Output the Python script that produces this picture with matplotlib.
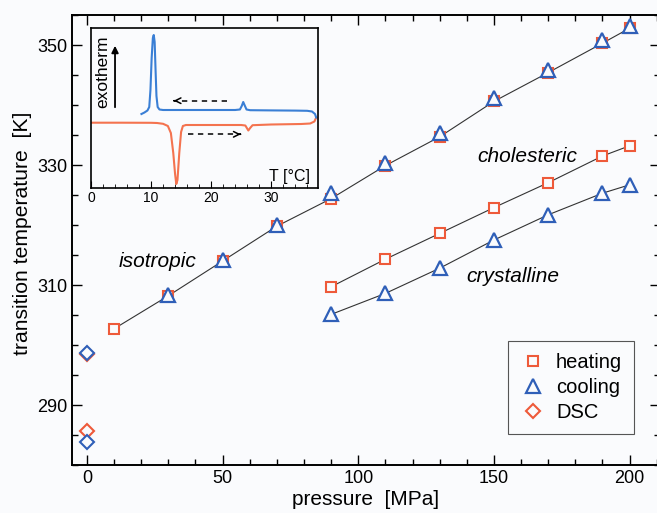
import matplotlib
matplotlib.use('Agg')
import matplotlib.pyplot as plt
from matplotlib.ticker import MultipleLocator, FixedLocator
from matplotlib.lines import Line2D

plt.rcParams['font.family'] = ['Liberation Sans', 'DejaVu Sans']

# transition temperatures vs pressure
# upper branch (isotropic transition)
p_iso_heat = [10, 30, 50, 70, 90, 110, 130, 150, 170, 190, 200]
T_iso_heat = [302.7, 308.2, 314.0, 319.8, 324.4, 329.9, 334.7, 340.6, 345.4, 350.3, 352.8]
p_iso_cool = [30, 50, 70, 90, 110, 130, 150, 170, 190, 200]
T_iso_cool = [308.4, 314.1, 320.0, 325.3, 330.4, 335.4, 341.1, 345.9, 350.9, 353.1]

# lower branches
p_low = [90, 110, 130, 150, 170, 190, 200]
T_chol_heat = [309.7, 314.3, 318.6, 322.9, 327.05, 331.5, 333.2]
T_cryst_cool = [305.1, 308.6, 312.8, 317.5, 321.7, 325.3, 326.7]

# DSC at ambient pressure
p_dsc = [0, 0]
T_dsc_heat = [298.5, 285.7]
T_dsc_cool = [298.7, 283.9]

# DSC traces for inset (T in degC, heat flow in arbitrary units)
dsc_cool_T = [8.4, 8.9, 9.4, 9.7, 9.9, 10.1, 10.3, 10.45, 10.6, 10.75, 10.9, 11.1, 11.4, 12.0,
              16.0, 20.0, 24.0, 24.8, 25.1, 25.35, 25.6, 25.9, 26.5, 30.0, 34.0, 36.0,
              36.8, 37.3, 37.5]
dsc_cool_v = [74.0, 75.5, 77.5, 81.0, 98.0, 130.0, 150.0, 153.0, 146.0, 118.0, 92.0, 81.0, 78.5, 78.0,
              78.0, 78.0, 78.0, 78.5, 82.0, 86.0, 82.5, 78.5, 77.8, 77.6, 77.4, 77.2,
              76.5, 74.0, 70.5]
dsc_heat_T = [0.1, 5.0, 10.0, 11.0, 12.0, 12.8, 13.3, 13.7, 14.0, 14.2, 14.4, 14.7, 15.0, 15.3,
              15.8, 20.0, 25.0, 25.7, 26.0, 26.2, 26.5, 26.9, 30.0, 35.0, 36.5, 37.2, 37.5]
dsc_heat_v = [65.3, 65.3, 65.2, 65.0, 64.2, 62.0, 55.0, 35.0, 14.0, 4.0, 8.0, 35.0, 56.0, 62.0,
              63.0, 63.0, 63.0, 62.5, 59.5, 57.5, 60.0, 62.8, 63.5, 64.0, 64.5, 66.5, 70.5]

y_major = [290, 310, 330, 350]

c_heat = '#ee5a3a'
c_cool = '#2f5fb8'
c_dsc_heat = '#f4734f'
c_dsc_cool = '#3a7fd5'
bg = '#fafbfd'

fig = plt.figure(figsize=(6.57, 5.13), dpi=100, facecolor=bg)
ax = fig.add_axes([72/657, 48/513, 588/657, 450/513], facecolor=bg)

line_kw = dict(color='#333333', lw=0.8, zorder=1)
ax.plot(p_iso_heat, T_iso_heat, **line_kw)
ax.plot(p_low, T_chol_heat, **line_kw)
ax.plot(p_low, T_cryst_cool, **line_kw)

sq = dict(ls='none', marker='s', ms=7.2, mfc=bg, mec=c_heat, mew=1.5, zorder=3)
tri = dict(ls='none', marker='^', ms=10, mfc=bg, mec=c_cool, mew=1.6, zorder=4)
dia_h = dict(ls='none', marker='D', ms=7, mfc=bg, mec=c_heat, mew=1.5, zorder=3)
dia_c = dict(ls='none', marker='D', ms=7, mfc=bg, mec=c_cool, mew=1.5, zorder=4)

ax.plot(p_iso_heat, T_iso_heat, **sq)
ax.plot(p_low, T_chol_heat, **sq)
ax.plot(p_iso_cool, T_iso_cool, **tri)
ax.plot(p_low, T_cryst_cool, **tri)
ax.plot(p_dsc, T_dsc_heat, **dia_h)
ax.plot(p_dsc, T_dsc_cool, **dia_c)

ax.set_xlim(-5.5, 211.2)
ax.set_ylim(280, 355)
ax.xaxis.set_major_locator(MultipleLocator(50))
ax.xaxis.set_minor_locator(MultipleLocator(10))
ax.yaxis.set_major_locator(FixedLocator(y_major))
ax.yaxis.set_minor_locator(MultipleLocator(5))
ax.tick_params(which='both', direction='in', top=True, right=True, labelsize=13, width=1.0)
ax.tick_params(which='major', length=7)
ax.tick_params(which='minor', length=4.5)
for s in ax.spines.values():
    s.set_linewidth(1.4)

ax.set_xlabel('pressure  [MPa]', fontsize=15, labelpad=2)
ax.set_ylabel('transition temperature  [K]', fontsize=15.2)
ax.yaxis.set_label_coords(-0.068, 0.515)

ax.text(26, 313.9, 'isotropic', style='italic', fontsize=15, ha='center', va='center')
ax.text(162.4, 331.5, 'cholesteric', style='italic', fontsize=15, ha='center', va='center')
ax.text(157, 311.4, 'crystalline', style='italic', fontsize=15, ha='center', va='center')

handles = [
    Line2D([], [], **sq),
    Line2D([], [], **tri),
    Line2D([], [], **dia_h),
]
leg = ax.legend(handles, ['heating', 'cooling', 'DSC'], loc='lower right',
                bbox_to_anchor=(0.956, 0.069), borderaxespad=0, fontsize=14.5,
                fancybox=False, framealpha=1, edgecolor='#555555', facecolor=bg,
                handletextpad=0.5, labelspacing=0.3, borderpad=0.6, handlelength=1.3)
leg.get_frame().set_linewidth(0.8)

# inset: DSC traces
axi = fig.add_axes([91/657, (513-188)/513, 227/657, 160.3/513], facecolor=bg)
axi.plot(dsc_heat_T, dsc_heat_v, color=c_dsc_heat, lw=1.5)
axi.plot(dsc_cool_T, dsc_cool_v, color=c_dsc_cool, lw=1.5)
axi.set_xlim(0, 37.8)
axi.set_ylim(0, 160.3)
axi.set_yticks([])
axi.xaxis.set_major_locator(MultipleLocator(10))
axi.xaxis.set_minor_locator(MultipleLocator(2))
axi.tick_params(which='both', direction='in', labelsize=10, pad=2)
axi.tick_params(which='major', length=5)
axi.tick_params(which='minor', length=3)
for s in axi.spines.values():
    s.set_linewidth(1.2)

# dashed arrows showing scan direction
axi.plot([22.6, 13.8], [87.3, 87.3], color='black', lw=1.1, ls=(0, (3.5, 3)))
axi.annotate('', xy=(13.3, 87.3), xytext=(14.3, 87.3),
             arrowprops=dict(arrowstyle='->', color='black', lw=1.1))
axi.plot([16.1, 24.9], [53.7, 53.7], color='black', lw=1.1, ls=(0, (3.5, 3)))
axi.annotate('', xy=(25.4, 53.7), xytext=(24.4, 53.7),
             arrowprops=dict(arrowstyle='->', color='black', lw=1.1))

# exotherm direction
axi.annotate('', xy=(4.0, 145), xytext=(4.0, 78),
             arrowprops=dict(arrowstyle='-|>', color='black', lw=1.3, mutation_scale=10))
axi.text(2.0, 116, 'exotherm', rotation=90, fontsize=12.5, ha='center', va='center')
axi.text(36.5, 12, 'T [°C]', fontsize=11.5, ha='right', va='center')

fig.savefig('out.png', dpi=100, facecolor=bg)
